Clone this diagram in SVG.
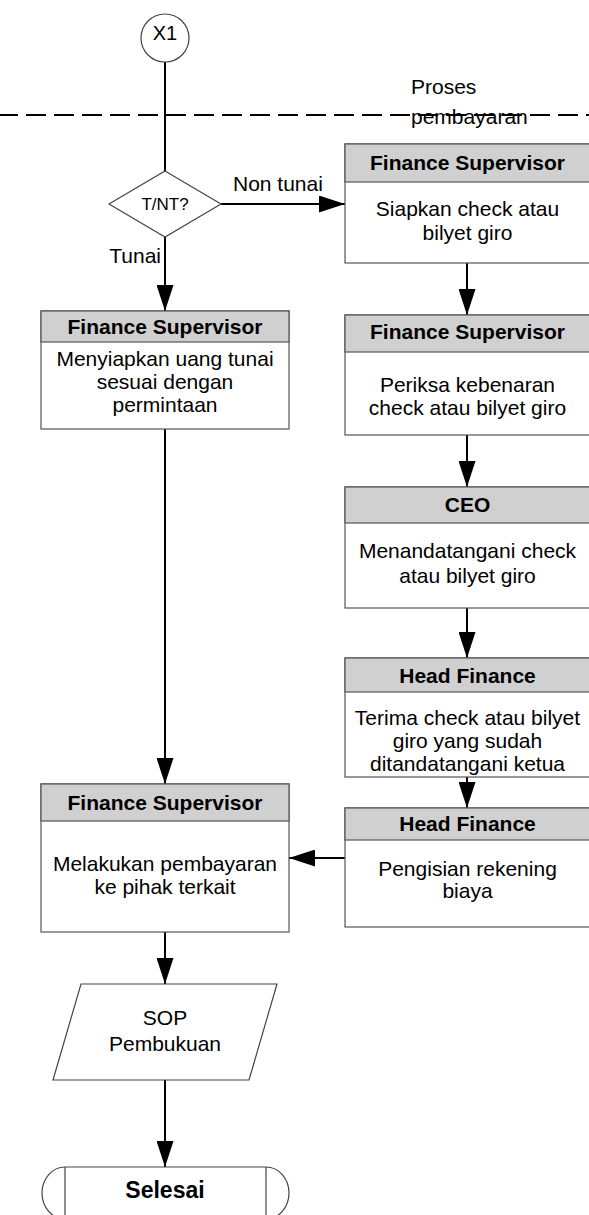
<svg xmlns="http://www.w3.org/2000/svg" width="589" height="1215" viewBox="0 0 589 1215">
<style>
text{font-family:"Liberation Sans",Arial,sans-serif;fill:#000}
.t{font-size:21px;text-anchor:middle}
.h{font-size:21px;font-weight:bold;text-anchor:middle}
.box{fill:#fff;stroke:#555;stroke-width:1.2}
.hdr{fill:#d0d0d0;stroke:#555;stroke-width:1.2}
.shape{fill:#fff;stroke:#444;stroke-width:1.2}
.c{stroke:#000;stroke-width:2;fill:none}
.ca{stroke:#000;stroke-width:2;fill:none;marker-end:url(#ah)}
</style>
<defs>
<marker id="ah" markerUnits="userSpaceOnUse" markerWidth="27" markerHeight="17" refX="26" refY="8.5" orient="auto">
<path d="M0,0 L26,8.5 L0,17 z" fill="#000"/>
</marker>
</defs>
<g id="lane">
<line x1="0" y1="115" x2="589" y2="115" stroke="#000" stroke-width="2" stroke-dasharray="20 8" stroke-dashoffset="2"/>
<text x="411" y="94" style="font-size:21px">Proses</text>
<text x="411" y="124" style="font-size:21px">pembayaran</text>
</g>
<g id="connectors">
<line class="c" x1="165" y1="62" x2="165" y2="171"/>
<line class="ca" x1="221" y1="204" x2="345" y2="204"/>
<line class="ca" x1="165" y1="237" x2="165" y2="311"/>
<line class="ca" x1="467" y1="263" x2="467" y2="315"/>
<line class="ca" x1="467" y1="435" x2="467" y2="487"/>
<line class="ca" x1="467" y1="608" x2="467" y2="658"/>
<line class="ca" x1="467" y1="777" x2="467" y2="808"/>
<line class="ca" x1="165" y1="429" x2="165" y2="784"/>
<line class="ca" x1="345" y1="858" x2="289" y2="858"/>
<line class="ca" x1="165" y1="932" x2="165" y2="984"/>
<line class="ca" x1="165" y1="1080" x2="165" y2="1167"/>
<text x="233" y="191" style="font-size:21px">Non tunai</text>
<text x="161" y="263" style="font-size:21px;text-anchor:end">Tunai</text>
</g>
<g id="x1">
<circle class="shape" cx="165" cy="38" r="24"/>
<text x="165" y="40" style="font-size:20px;text-anchor:middle">X1</text>
</g>
<g id="decision">
<polygon class="shape" points="165,171 221,204 165,237 109,204"/>
<text x="165" y="210" style="font-size:17px;text-anchor:middle">T/NT?</text>
</g>
<g id="fs-cash">
<rect class="box" x="41" y="311" width="248" height="118"/>
<rect class="hdr" x="41" y="311" width="248" height="31"/>
<text class="h" x="165" y="334">Finance Supervisor</text>
<text class="t" x="165" y="366">Menyiapkan uang tunai</text>
<text class="t" x="165" y="389">sesuai dengan</text>
<text class="t" x="165" y="412">permintaan</text>
</g>
<g id="fs-check">
<rect class="box" x="345" y="144" width="245" height="119"/>
<rect class="hdr" x="345" y="144" width="245" height="38"/>
<text class="h" x="467.5" y="170">Finance Supervisor</text>
<text class="t" x="467.5" y="216">Siapkan check atau</text>
<text class="t" x="467.5" y="240">bilyet giro</text>
</g>
<g id="fs-verify">
<rect class="box" x="345" y="315" width="245" height="120"/>
<rect class="hdr" x="345" y="315" width="245" height="37"/>
<text class="h" x="467.5" y="339">Finance Supervisor</text>
<text class="t" x="467.5" y="392">Periksa kebenaran</text>
<text class="t" x="467.5" y="415">check atau bilyet giro</text>
</g>
<g id="ceo">
<rect class="box" x="345" y="487" width="245" height="121"/>
<rect class="hdr" x="345" y="487" width="245" height="36"/>
<text class="h" x="467.5" y="512">CEO</text>
<text class="t" x="467.5" y="558">Menandatangani check</text>
<text class="t" x="467.5" y="583">atau bilyet giro</text>
</g>
<g id="hf-receive">
<rect class="box" x="345" y="658" width="245" height="119"/>
<rect class="hdr" x="345" y="658" width="245" height="34"/>
<text class="h" x="467.5" y="683">Head Finance</text>
<text class="t" x="467.5" y="725">Terima check atau bilyet</text>
<text class="t" x="467.5" y="748">giro yang sudah</text>
<text class="t" x="467.5" y="771">ditandatangani ketua</text>
</g>
<g id="hf-account">
<rect class="box" x="345" y="808" width="245" height="119"/>
<rect class="hdr" x="345" y="808" width="245" height="32"/>
<text class="h" x="467.5" y="831">Head Finance</text>
<text class="t" x="467.5" y="876">Pengisian rekening</text>
<text class="t" x="467.5" y="898">biaya</text>
</g>
<g id="fs-pay">
<rect class="box" x="41" y="784" width="248" height="148"/>
<rect class="hdr" x="41" y="784" width="248" height="37"/>
<text class="h" x="165" y="810">Finance Supervisor</text>
<text class="t" x="165" y="871">Melakukan pembayaran</text>
<text class="t" x="165" y="894">ke pihak terkait</text>
</g>
<g id="sop">
<polygon class="shape" points="81,984 277,984 249,1080 53,1080"/>
<text class="t" x="165" y="1025">SOP</text>
<text class="t" x="165" y="1051">Pembukuan</text>
</g>
<g id="end">
<path class="shape" d="M65,1167 H266 A23,26 0 0 1 266,1219 H65 A23,26 0 0 1 65,1167 Z"/>
<line x1="65" y1="1167" x2="65" y2="1219" stroke="#444" stroke-width="1.2"/>
<line x1="266" y1="1167" x2="266" y2="1219" stroke="#444" stroke-width="1.2"/>
<text x="165" y="1198" style="font-size:23px;font-weight:bold;text-anchor:middle">Selesai</text>
</g>
</svg>
